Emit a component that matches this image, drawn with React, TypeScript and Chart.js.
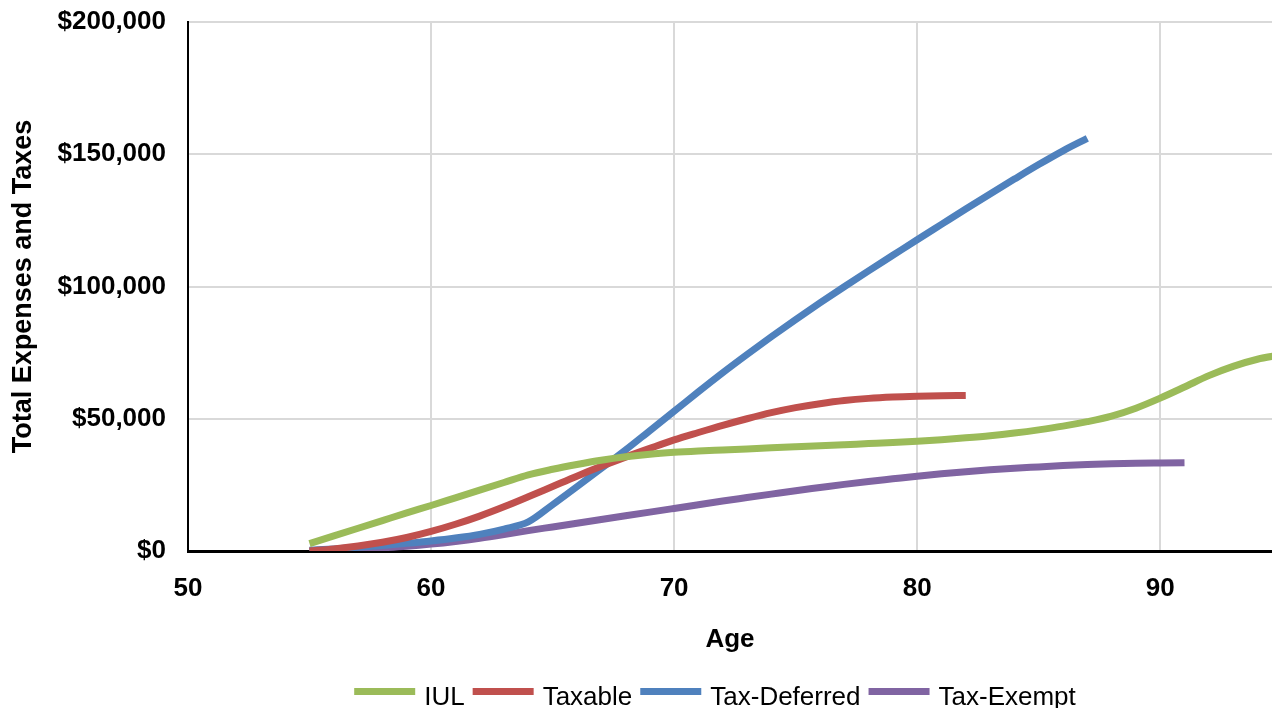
import { useEffect, useRef } from "react";
import { Chart, registerables } from "chart.js";

Chart.register(...registerables);

// Age of the owner for each yearly value
const ages = [
  55, 56, 57, 58, 59, 60, 61, 62, 63, 64, 65, 66, 67, 68, 69, 70, 71, 72, 73, 74,
  75, 76, 77, 78, 79, 80, 81, 82, 83, 84, 85, 86, 87, 88, 89, 90, 91, 92, 93, 94, 95,
];

// Total expenses and taxes per strategy (USD), starting at age 55
const iul = [
  2800, 5700, 8600, 11500, 14400, 17200, 20100, 23000, 25900, 28800, 30900, 32700,
  34300, 35600, 36600, 37300, 37800, 38200, 38600, 39000, 39400, 39800, 40200, 40600,
  41000, 41500, 42100, 42800, 43600, 44600, 45800, 47200, 48900, 51000, 54000, 57800,
  62000, 66300, 69800, 72500, 74200,
];
const taxable = [
  0, 800, 1900, 3300, 5100, 7400, 10100, 13200, 16700, 20500, 24400, 28300, 32000,
  35500, 38800, 42000, 44800, 47500, 50000, 52300, 54200, 55700, 56900, 57700, 58200,
  58500, 58700, 58800,
];
const taxDeferred = [
  300, 800, 1400, 2100, 2900, 3800, 4900, 6300, 8300, 11000, 17500, 24300, 31200,
  38200, 45500, 52800, 60200, 67400, 74300, 81000, 87500, 93800, 99900, 105900,
  111800, 117700, 123500, 129300, 135000, 140600, 146100, 151300, 156000,
];
const taxExempt = [
  0, 300, 700, 1200, 1800, 2600, 3600, 4800, 6200, 7700, 9100, 10500, 11900, 13300,
  14700, 16100, 17500, 18900, 20200, 21500, 22800, 24000, 25200, 26300, 27300, 28300,
  29200, 30000, 30700, 31300, 31800, 32300, 32700, 33000, 33200, 33300, 33400,
];

const seriesNames = ["IUL", "Taxable", "Tax-Deferred", "Tax-Exempt"];
const seriesValues = [iul, taxable, taxDeferred, taxExempt];
const seriesColors = ["#9BBB59", "#C0504D", "#4F81BD", "#8064A2"];

const xTickValues = [50, 60, 70, 80, 90];
const yTickValues = [0, 50000, 100000, 150000, 200000];

const FONT = '"Liberation Sans", Arial, Helvetica, sans-serif';

// Legend row under the axis title: a short line sample followed by the series name
const bottomLegend = {
  id: "bottomLegend",
  afterDraw(chart: any) {
    const ctx = chart.ctx as CanvasRenderingContext2D;
    ctx.save();
    ctx.font = `26px ${FONT}`;
    const sampleW = 61;
    const sampleH = 7;
    const gapText = 9;
    const gapItem = 8;
    const items = chart.data.datasets.map((ds: any) => ({
      label: ds.label as string,
      color: ds.borderColor as string,
      w: ctx.measureText(ds.label).width,
    }));
    const total =
      items.reduce((s: number, it: any) => s + sampleW + gapText + it.w, 0) +
      gapItem * (items.length - 1);
    let x = 715 - total / 2;
    const lineY = 691.5;
    const textY = 705;
    ctx.textAlign = "left";
    ctx.textBaseline = "alphabetic";
    items.forEach((it: any) => {
      ctx.fillStyle = it.color;
      ctx.fillRect(x, lineY - sampleH / 2, sampleW, sampleH);
      x += sampleW + gapText;
      ctx.fillStyle = "#000";
      ctx.fillText(it.label, x, textY);
      x += it.w + gapItem;
    });
    ctx.restore();
  },
};

export default function App() {
  const canvasRef = useRef<HTMLCanvasElement | null>(null);

  useEffect(() => {
    if (!canvasRef.current) return;
    const datasets = seriesNames.map((name, i) => ({
      label: name,
      data: seriesValues[i].map((v, j) => ({ x: ages[j], y: v })),
      borderColor: seriesColors[i],
      backgroundColor: seriesColors[i],
      borderWidth: 7,
      pointRadius: 0,
      cubicInterpolationMode: "monotone" as const,
      fill: false,
    }));

    const tickFont = { family: FONT, size: 26, weight: "bold" as const };

    const chart = new Chart(canvasRef.current, {
      type: "line",
      data: { datasets },
      plugins: [bottomLegend],
      options: {
        animation: false,
        responsive: false,
        layout: { padding: { top: 22, left: 0, right: 0, bottom: 0 } },
        plugins: {
          legend: { display: false },
          tooltip: { enabled: false },
        },
        scales: {
          x: {
            type: "linear",
            min: 50,
            max: 94.6,
            afterBuildTicks: (s: any) => {
              s.ticks = xTickValues.map((v) => ({ value: v }));
            },
            afterFit: (s: any) => {
              s.height = 157;
            },
            grid: { color: "#d9d9d9", lineWidth: 2, drawTicks: false },
            border: { color: "#000", width: 3 },
            ticks: {
              font: tickFont,
              color: "#000",
              padding: 22,
              maxRotation: 0,
              autoSkip: false,
            },
            title: {
              display: true,
              text: "Age",
              color: "#000",
              font: { family: FONT, size: 26, weight: "bold" },
              padding: { top: 0, bottom: 53 },
            },
          },
          y: {
            min: 0,
            max: 200000,
            afterBuildTicks: (s: any) => {
              s.ticks = yTickValues.map((v) => ({ value: v }));
            },
            afterFit: (s: any) => {
              s.width = 188;
            },
            grid: {
              color: "#d9d9d9",
              lineWidth: 2,
              drawTicks: true,
              tickLength: 22,
              tickColor: "rgba(0,0,0,0)",
            },
            border: { color: "#000", width: 2 },
            ticks: {
              font: tickFont,
              color: "#000",
              padding: 0,
              callback: (v: any) => "$" + Number(v).toLocaleString("en-US"),
            },
            title: {
              display: true,
              text: "Total Expenses and Taxes",
              color: "#000",
              font: { family: FONT, size: 27, weight: "bold" },
              padding: { top: 7, bottom: 0 },
            },
          },
        },
      },
    });
    return () => chart.destroy();
  }, []);

  return (
    <div
      style={{
        position: "absolute",
        left: 0,
        top: 0,
        width: 1272,
        height: 708,
        background: "#fff",
      }}
    >
      <canvas ref={canvasRef} width={1272} height={708} style={{ display: "block" }} />
    </div>
  );
}
